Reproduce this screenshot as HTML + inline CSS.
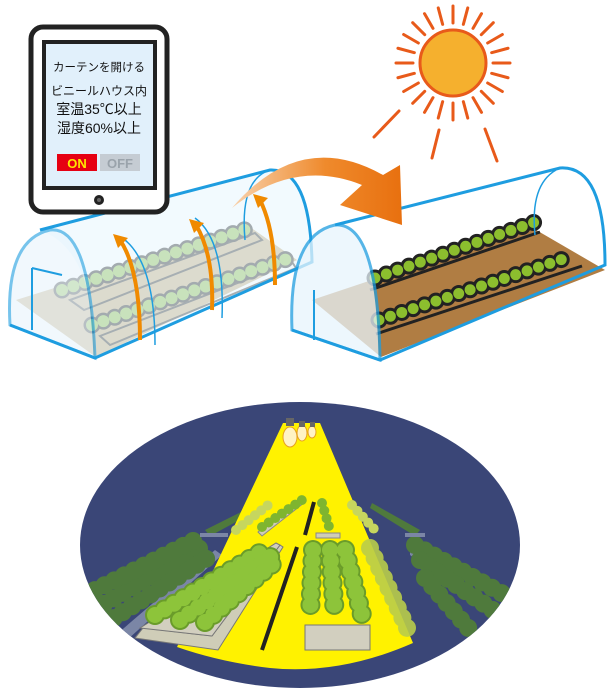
<!DOCTYPE html>
<html><head><meta charset="utf-8"><style>
html,body{margin:0;padding:0;background:#fff;width:610px;height:690px;overflow:hidden}
svg{display:block}
text{font-family:"Liberation Sans","Noto Sans CJK JP",sans-serif}
</style></head><body>
<svg width="610" height="690" viewBox="0 0 610 690" xmlns="http://www.w3.org/2000/svg">
<defs>
<linearGradient id="arr" x1="0" y1="0" x2="1" y2="0"><stop offset="0" stop-color="#f8d2ad"/><stop offset="0.55" stop-color="#ef8a2c"/><stop offset="1" stop-color="#e8700f"/></linearGradient>
<clipPath id="ec"><ellipse cx="300" cy="545" rx="220" ry="143"/></clipPath>
</defs>

<!-- Sun -->
<g stroke="#e85a1a" stroke-width="3" stroke-linecap="round">
<g transform="translate(453,63)">
<line x1="40" y1="0" x2="57" y2="0"/><line x1="40" y1="0" x2="57" y2="0" transform="rotate(15)"/><line x1="40" y1="0" x2="57" y2="0" transform="rotate(30)"/><line x1="40" y1="0" x2="57" y2="0" transform="rotate(45)"/><line x1="40" y1="0" x2="57" y2="0" transform="rotate(60)"/><line x1="40" y1="0" x2="57" y2="0" transform="rotate(75)"/><line x1="40" y1="0" x2="57" y2="0" transform="rotate(90)"/><line x1="40" y1="0" x2="57" y2="0" transform="rotate(105)"/><line x1="40" y1="0" x2="57" y2="0" transform="rotate(120)"/><line x1="40" y1="0" x2="57" y2="0" transform="rotate(135)"/><line x1="40" y1="0" x2="57" y2="0" transform="rotate(150)"/><line x1="40" y1="0" x2="57" y2="0" transform="rotate(165)"/><line x1="40" y1="0" x2="57" y2="0" transform="rotate(180)"/><line x1="40" y1="0" x2="57" y2="0" transform="rotate(195)"/><line x1="40" y1="0" x2="57" y2="0" transform="rotate(210)"/><line x1="40" y1="0" x2="57" y2="0" transform="rotate(225)"/><line x1="40" y1="0" x2="57" y2="0" transform="rotate(240)"/><line x1="40" y1="0" x2="57" y2="0" transform="rotate(255)"/><line x1="40" y1="0" x2="57" y2="0" transform="rotate(270)"/><line x1="40" y1="0" x2="57" y2="0" transform="rotate(285)"/><line x1="40" y1="0" x2="57" y2="0" transform="rotate(300)"/><line x1="40" y1="0" x2="57" y2="0" transform="rotate(315)"/><line x1="40" y1="0" x2="57" y2="0" transform="rotate(330)"/><line x1="40" y1="0" x2="57" y2="0" transform="rotate(345)"/>
</g>
<line x1="374" y1="137" x2="399" y2="111"/><line x1="432" y1="158" x2="439" y2="130"/><line x1="485" y1="129" x2="497" y2="161"/>
</g>
<circle cx="453" cy="63" r="33" fill="#f5b02e" stroke="#e85a1a" stroke-width="3"/>

<!-- Left greenhouse -->
<g>
<polygon points="16,300 96,357 297,260 250,227" fill="#d8c7a8"/>
<path d="M70,300 L255,233 L262,240 L84,310 Z M100,336 L292,262 L296,268 L110,345 Z" fill="none" stroke="#777" stroke-width="2"/>
<g stroke-linecap="round" fill="none" stroke-dasharray="0 12">
<line x1="62" y1="290" x2="250" y2="228" stroke="#6f6f6f" stroke-width="17"/>
<line x1="62" y1="290" x2="250" y2="228" stroke="#b2d487" stroke-width="12"/>
<line x1="92" y1="325" x2="290" y2="258" stroke="#6f6f6f" stroke-width="17"/>
<line x1="92" y1="325" x2="290" y2="258" stroke="#b2d487" stroke-width="12"/>
</g>
<path d="M40,230 L270,170 Q310,168 312,262 L95,358 Q95,250 40,230 Z" fill="#e3f3fc" opacity="0.45"/>
<path d="M10,325 Q5,240 50,230 Q90,225 95,358 Z" fill="#e8f5fd" opacity="0.6" stroke="#1e9de0" stroke-width="3"/>
<path d="M40,230 L270,170 Q310,168 312,262 L95,358 L10,325" stroke="#1e9de0" stroke-width="3" fill="none"/>
<path d="M245,240 Q240,185 265,172" stroke="#1e9de0" stroke-width="1.5" fill="none"/>
<path d="M32,268 L32,330 M32,268 L62,275" stroke="#1e9de0" stroke-width="2" fill="none"/>
<path d="M125,240 Q155,265 155,345 M195,218 Q225,240 222,318" stroke="#1e9de0" stroke-width="1.5" fill="none"/>
<g stroke="#f08a00" stroke-width="4" fill="none"><path d="M140,340 Q140,270 120,240"/><path d="M212,310 Q214,255 196,225"/><path d="M275,285 Q275,230 260,200"/></g>
<g fill="#f08a00"><polygon points="113,234 128,238 118,248"/><polygon points="189,219 204,223 194,233"/><polygon points="253,194 268,198 258,208"/></g>
</g>

<!-- Right greenhouse -->
<g>
<polygon points="312,300 381,357 605,270 531,227" fill="#b07d43"/>
<path d="M370,290 L540,232 M376,334 L582,266" stroke="#222" stroke-width="3" fill="none"/>
<g stroke-linecap="round" fill="none" stroke-dasharray="0 12">
<line x1="375" y1="278" x2="535" y2="222" stroke="#222" stroke-width="17"/>
<line x1="375" y1="278" x2="535" y2="222" stroke="#8cbe2e" stroke-width="11"/>
<line x1="379" y1="320" x2="572" y2="256" stroke="#222" stroke-width="17"/>
<line x1="379" y1="320" x2="572" y2="256" stroke="#8cbe2e" stroke-width="11"/>
</g>
<path d="M292,330 Q288,235 335,225 Q378,222 380,360 Z" fill="#e8f5fd" opacity="0.75" stroke="#1e9de0" stroke-width="3"/>
<path d="M335,225 L560,168 Q605,165 605,265 L380,360 L292,330" stroke="#1e9de0" stroke-width="3" fill="none"/>
<path d="M535,235 Q530,185 556,170" stroke="#1e9de0" stroke-width="1.5" fill="none"/>
<path d="M314,290 L314,340" stroke="#1e9de0" stroke-width="2"/>
</g>

<!-- Orange curved arrow -->
<path d="M232,208 Q295,158 362,185 L340,205 L402,225 L400,165 L383,175 Q300,128 232,208 Z" fill="url(#arr)"/>

<!-- Tablet -->
<rect x="31" y="27" width="136" height="185" rx="12" fill="#fff" stroke="#222" stroke-width="5"/>
<rect x="44" y="42" width="111" height="146" fill="#e1f0fb" stroke="#222" stroke-width="4"/>
<circle cx="99" cy="200" r="5" fill="#222"/><circle cx="99" cy="200" r="2" fill="#666"/>
<text x="99" y="71" font-size="11.5" text-anchor="middle" fill="#111">カーテンを開ける</text>
<text x="99" y="95" font-size="12" text-anchor="middle" fill="#111">ビニールハウス内</text>
<text x="99" y="114" font-size="14" text-anchor="middle" fill="#111">室温35℃以上</text>
<text x="99" y="133" font-size="14" text-anchor="middle" fill="#111">湿度60%以上</text>
<rect x="57" y="154" width="40" height="17" fill="#e60012"/>
<rect x="100" y="154" width="40" height="17" fill="#c5ccd3"/>
<text x="77" y="168" font-size="13" font-weight="bold" text-anchor="middle" fill="#ffe600">ON</text>
<text x="120" y="168" font-size="13" font-weight="bold" text-anchor="middle" fill="#9aa3ab">OFF</text>

<!-- Lower night scene -->
<ellipse cx="300" cy="545" rx="220" ry="143" fill="#3a4677"/>
<g clip-path="url(#ec)">
<polygon points="110,640 215,550 222,555 118,648" fill="#7b86a6"/>
<g stroke-linecap="round" fill="none" stroke-dasharray="0 11" stroke="#4f7a3c" stroke-width="18">
<line x1="85" y1="615" x2="205" y2="545"/><line x1="95" y1="630" x2="212" y2="555"/><line x1="75" y1="600" x2="195" y2="540"/>
</g>
<polygon points="410,548 520,620 520,640 410,555" fill="#7b86a6"/>
<g stroke-linecap="round" fill="none" stroke-dasharray="0 11" stroke="#4f7a3c" stroke-width="18">
<line x1="415" y1="545" x2="505" y2="595"/><line x1="420" y1="560" x2="500" y2="615"/><line x1="425" y1="578" x2="470" y2="630"/>
</g>
<polygon points="205,530 255,505 258,510 210,536" fill="#4f7a3c"/>
<polygon points="372,503 420,530 415,536 370,508" fill="#4f7a3c"/>
<polygon points="200,533 228,533 228,537 200,537" fill="#7b86a6"/>
<polygon points="405,533 425,533 425,537 405,537" fill="#7b86a6"/>
<path d="M283,423 L320,423 L413,643 Q340,675 270,668 Q220,662 177,647 Z" fill="#fff200"/>
<polygon points="258,532 300,500 305,502 262,536" fill="#cfcdb8" stroke="#888"/>
<g stroke-linecap="round" fill="none" stroke-dasharray="0 8" stroke-width="10">
<line x1="262" y1="527" x2="302" y2="500" stroke="#7fb52f"/>
<line x1="322" y1="503" x2="330" y2="530" stroke="#7fb52f"/>
<line x1="352" y1="505" x2="375" y2="530" stroke="#c6d65e"/>
<line x1="236" y1="530" x2="272" y2="502" stroke="#c6d65e"/>
</g>
<polygon points="316,533 340,533 340,538 316,538" fill="#cfcdb8" stroke="#888"/>
<polygon points="135,638 218,650 283,547 280,545 212,636 143,628" fill="#cfcdb8" stroke="#777"/>
<polygon points="140,628 212,636 280,545 276,543" fill="#d2cfbf" stroke="#777"/>
<g stroke-linecap="round" fill="none" stroke-dasharray="0 11">
<g stroke="#6a9c2a" stroke-width="20">
<line x1="155" y1="615" x2="268" y2="548"/><line x1="180" y1="620" x2="273" y2="555"/><line x1="205" y1="622" x2="277" y2="560"/>
</g>
<g stroke="#8dc43a" stroke-width="16">
<line x1="155" y1="615" x2="268" y2="548"/><line x1="180" y1="620" x2="273" y2="555"/><line x1="205" y1="622" x2="277" y2="560"/>
</g>
</g>
<polygon points="305,625 370,625 370,650 305,650" fill="#d2cfbf" stroke="#777"/>
<g stroke-linecap="round" fill="none" stroke-dasharray="0 11">
<g stroke="#6a9c2a" stroke-width="20">
<line x1="313" y1="550" x2="310" y2="615"/><line x1="330" y1="550" x2="335" y2="615"/><line x1="345" y1="550" x2="362" y2="615"/>
</g>
<g stroke="#8dc43a" stroke-width="16">
<line x1="313" y1="550" x2="310" y2="615"/><line x1="330" y1="550" x2="335" y2="615"/><line x1="345" y1="550" x2="362" y2="615"/>
</g>
</g>
<g stroke-linecap="round" fill="none" stroke-dasharray="0 11" stroke="#b9cc4a" stroke-width="18" opacity="0.9">
<line x1="370" y1="548" x2="408" y2="630"/>
</g>
<path d="M297,547 L262,650 M314,502 L305,535" stroke="#222" stroke-width="4"/>
<ellipse cx="290" cy="437" rx="7" ry="10" fill="#fff3c4" stroke="#e8a020"/>
<ellipse cx="302" cy="433" rx="5" ry="8" fill="#fff3c4" stroke="#e8a020"/>
<ellipse cx="312" cy="432" rx="4" ry="6" fill="#fff3c4" stroke="#e8a020"/>
<rect x="286" y="418" width="8" height="8" fill="#666"/><rect x="299" y="421" width="6" height="6" fill="#666"/><rect x="310" y="422" width="5" height="5" fill="#666"/>
</g>
</svg>
</body></html>
